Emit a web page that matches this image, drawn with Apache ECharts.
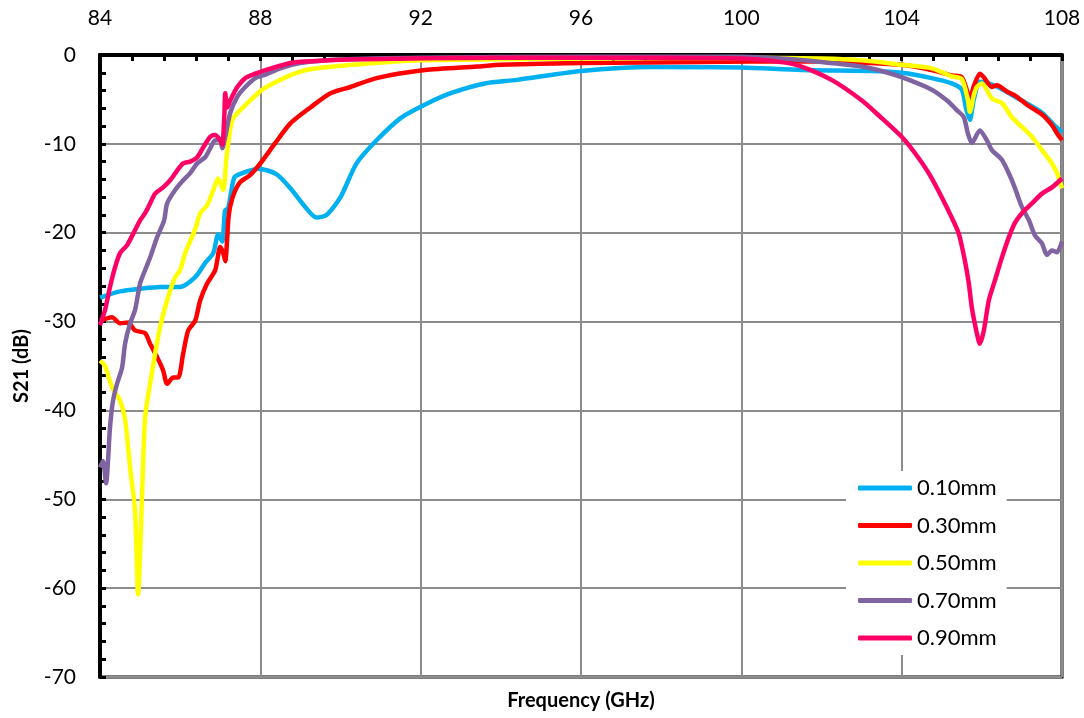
<!DOCTYPE html>
<html><head><meta charset="utf-8">
<script src="https://cdn.jsdelivr.net/npm/echarts@6/dist/echarts.min.js"></script>
<style>html,body{margin:0;padding:0;background:#fff}#c{width:1084px;height:718px}</style>
</head><body><div id="c"></div>
<script>
const seriesNames = ['0.10mm','0.30mm','0.50mm','0.70mm','0.90mm'];
const colors = ['#00B0F0','#FF0000','#FFFF00','#8064A2','#FF0066'];
const xTicks = [84,88,92,96,100,104,108];
const yTicks = [0,-10,-20,-30,-40,-50,-60,-70];

const f010 = [84.0,84.5,85.0,85.5,86.0,86.375,86.625,86.825,86.95,87.05,87.12,87.2,87.35,87.55,87.95,88.4,88.75,89.1,89.4,89.65,90.0,90.4,90.9,91.5,92.1,92.75,93.6,94.4,96.0,97.75,100.0,101.5,103.25,104.0,104.75,105.25,105.5,105.6,105.7,105.8,105.95,106.1,106.4,106.75,107.1,107.5,107.85,108.0];
const s010 = [-27.3,-26.6,-26.3,-26.1,-26.1,-25.0,-23.4,-22.3,-20.2,-21.0,-17.5,-17.2,-13.8,-13.3,-12.8,-13.4,-15.0,-17.0,-18.3,-18.0,-16.0,-12.2,-9.6,-7.1,-5.6,-4.3,-3.2,-2.8,-1.8,-1.35,-1.4,-1.7,-1.8,-2.0,-2.6,-3.2,-3.9,-5.9,-7.3,-5.0,-3.0,-3.1,-3.6,-4.5,-5.4,-6.5,-8.1,-8.7];

const f030 = [84.0,84.3,84.5,84.7,84.875,85.125,85.25,85.425,85.575,85.675,85.825,85.95,86.075,86.2,86.375,86.5,86.675,86.875,87.0,87.075,87.125,87.175,87.2,87.25,87.35,87.5,87.75,88.0,88.375,88.75,89.25,89.75,90.25,90.9,92.1,93.4,94.0,96.0,99.0,101.5,104.0,104.75,105.25,105.5,105.65,105.7,105.8,105.95,106.05,106.25,106.375,106.625,106.875,107.125,107.5,107.75,107.875,108.0];
const s030 = [-29.9,-29.5,-30.2,-30.1,-31.0,-31.3,-32.5,-34.0,-35.5,-37.0,-36.3,-36.3,-33.6,-31.0,-29.9,-27.6,-25.7,-24.2,-21.6,-22.3,-23.2,-20.5,-18.6,-17.0,-15.5,-14.3,-13.5,-12.2,-9.9,-7.7,-5.9,-4.3,-3.6,-2.6,-1.7,-1.3,-1.1,-0.9,-0.8,-0.7,-1.1,-1.7,-2.3,-2.5,-4.3,-5.0,-3.5,-2.1,-2.5,-3.6,-3.4,-4.1,-4.7,-5.6,-6.7,-7.9,-8.8,-9.6];

const f050 = [84.0,84.125,84.3,84.5,84.625,84.75,84.875,84.95,85.05,85.125,85.25,85.375,85.5,85.675,85.875,86.0,86.125,86.375,86.5,86.675,86.825,86.95,87.075,87.15,87.2,87.3,87.5,87.75,88.05,88.4,88.9,89.4,90.7,92.0,96.0,100.0,102.0,103.0,104.0,104.75,105.25,105.5,105.65,105.7,105.8,105.875,106.0,106.25,106.5,106.75,107.0,107.25,107.5,107.75,107.875,108.0];
const s050 = [-34.4,-35.0,-37.4,-38.9,-41.0,-46.4,-51.3,-60.7,-49.4,-40.8,-37.0,-33.6,-30.6,-27.6,-25.0,-24.2,-22.3,-19.6,-17.8,-16.9,-15.2,-13.9,-15.2,-11.8,-9.9,-7.3,-6.2,-5.1,-3.9,-3.0,-2.0,-1.5,-0.95,-0.6,-0.4,-0.3,-0.4,-0.6,-1.1,-1.5,-2.4,-2.7,-5.0,-6.4,-4.5,-3.6,-3.2,-4.9,-5.4,-7.0,-8.1,-9.2,-10.7,-12.2,-13.3,-15.0];

const f070 = [84.0,84.075,84.15,84.25,84.325,84.425,84.55,84.625,84.75,84.875,85.0,85.125,85.25,85.425,85.6,85.675,85.875,86.075,86.25,86.425,86.625,86.75,86.875,87.0,87.05,87.125,87.25,87.425,87.625,87.875,88.125,88.5,89.0,90.0,92.0,96.0,100.0,101.0,102.0,103.0,103.5,104.0,104.75,105.125,105.375,105.55,105.65,105.75,105.95,106.125,106.25,106.5,106.75,106.875,107.0,107.175,107.325,107.5,107.625,107.75,107.875,108.0];
const s070 = [-46.4,-45.7,-48.2,-41.9,-38.9,-37.0,-35.2,-32.5,-30.2,-28.7,-25.7,-24.2,-22.8,-20.5,-18.6,-16.7,-15.2,-14.1,-13.3,-12.2,-11.5,-10.5,-9.6,-9.6,-10.5,-9.2,-6.5,-4.7,-3.6,-2.6,-2.2,-1.5,-0.9,-0.5,-0.3,-0.2,-0.2,-0.4,-0.8,-1.3,-1.8,-2.5,-3.9,-5.1,-6.2,-7.0,-8.8,-9.9,-8.5,-9.6,-10.7,-11.8,-14.1,-15.6,-17.1,-18.6,-20.3,-21.2,-22.5,-22.0,-22.2,-21.0];

const f090 = [84.0,84.125,84.25,84.375,84.5,84.675,84.875,85.0,85.125,85.25,85.375,85.575,85.75,85.925,86.075,86.25,86.425,86.575,86.75,86.875,87.0,87.05,87.1,87.125,87.175,87.25,87.425,87.625,87.875,88.125,88.75,89.0,90.25,94.0,98.0,100.0,101.0,101.5,102.25,103.0,103.5,104.0,104.325,104.675,105.0,105.25,105.425,105.575,105.675,105.75,105.875,105.95,106.05,106.175,106.325,106.5,106.675,106.825,107.0,107.25,107.5,107.75,108.0];
const s090 = [-30.4,-28.7,-26.1,-23.9,-22.3,-21.4,-19.7,-18.6,-17.8,-16.7,-15.6,-14.9,-14.1,-13.0,-12.2,-12.0,-11.5,-10.4,-9.2,-9.0,-9.6,-10.1,-7.0,-4.3,-5.9,-5.1,-3.6,-2.6,-2.1,-1.7,-0.9,-0.75,-0.5,-0.3,-0.3,-0.4,-0.8,-1.3,-2.8,-5.1,-7.1,-9.2,-11.0,-13.3,-16.0,-18.3,-20.1,-23.1,-25.7,-28.4,-31.3,-32.5,-31.0,-27.6,-25.4,-22.8,-20.5,-18.9,-17.8,-16.7,-15.6,-14.9,-13.9];

const freqs = [f010,f030,f050,f070,f090];
const vals = [s010,s030,s050,s070,s090];

const chart = echarts.init(document.getElementById('c'), null, {renderer:'canvas'});
const FONT = 'Lato';
chart.setOption({
  animation:false,
  backgroundColor:'#fff',
  color: colors,
  grid:{left:100,right:22,top:55,bottom:41,show:true,borderColor:'#000',borderWidth:3,backgroundColor:'transparent'},
  xAxis:{
    type:'value', position:'top', min:xTicks[0], max:xTicks[xTicks.length-1], interval:4,
    axisLine:{show:true,onZero:false,lineStyle:{color:'#000',width:4}},
    axisTick:{show:true,inside:true,length:6,lineStyle:{color:'#000',width:3}},
    minorTick:{show:true,splitNumber:5,length:6,lineStyle:{color:'#000',width:3}},
    axisLabel:{color:'#000',fontSize:21,fontFamily:FONT,margin:26,formatter:v=>String(v)},
    splitLine:{show:true,lineStyle:{color:'#8c8c8c',width:2}}
  },
  yAxis:{
    type:'value', min:yTicks[yTicks.length-1], max:yTicks[0], interval:10,
    name:'S21 (dB)', nameLocation:'middle', nameGap:68, nameRotate:90,
    nameTextStyle:{color:'#000',fontSize:20,fontWeight:'bold',fontFamily:FONT},
    axisLine:{show:true,onZero:false,lineStyle:{color:'#000',width:4}},
    axisTick:{show:true,inside:true,length:6,lineStyle:{color:'#000',width:3}},
    minorTick:{show:true,splitNumber:5,length:6,lineStyle:{color:'#000',width:3}},
    axisLabel:{color:'#000',fontSize:21,fontFamily:FONT,margin:24},
    splitLine:{show:true,lineStyle:{color:'#8c8c8c',width:2}}
  },
  legend:{
    orient:'vertical', left:846, top:471, data:seriesNames,
    itemWidth:54, itemHeight:5, itemGap:15.5, icon:'roundRect',
    backgroundColor:'#fff', padding:[6,10,6,12],
    textStyle:{color:'#000',fontSize:22,fontFamily:FONT,padding:[0,0,0,0]}
  },
  graphic:[{type:'text',x:581,y:701,style:{text:'Frequency (GHz)',fill:'#000',font:'bold 20px '+FONT,textAlign:'center',textVerticalAlign:'middle'}}],
  series: seriesNames.map((n,i)=>({
    name:n, type:'line', symbol:'none', smooth:0.25, clip:true,
    lineStyle:{width:4.5,color:colors[i]},
    data: freqs[i].map((f,k)=>[f,vals[i][k]])
  }))
});
</script></body></html>
